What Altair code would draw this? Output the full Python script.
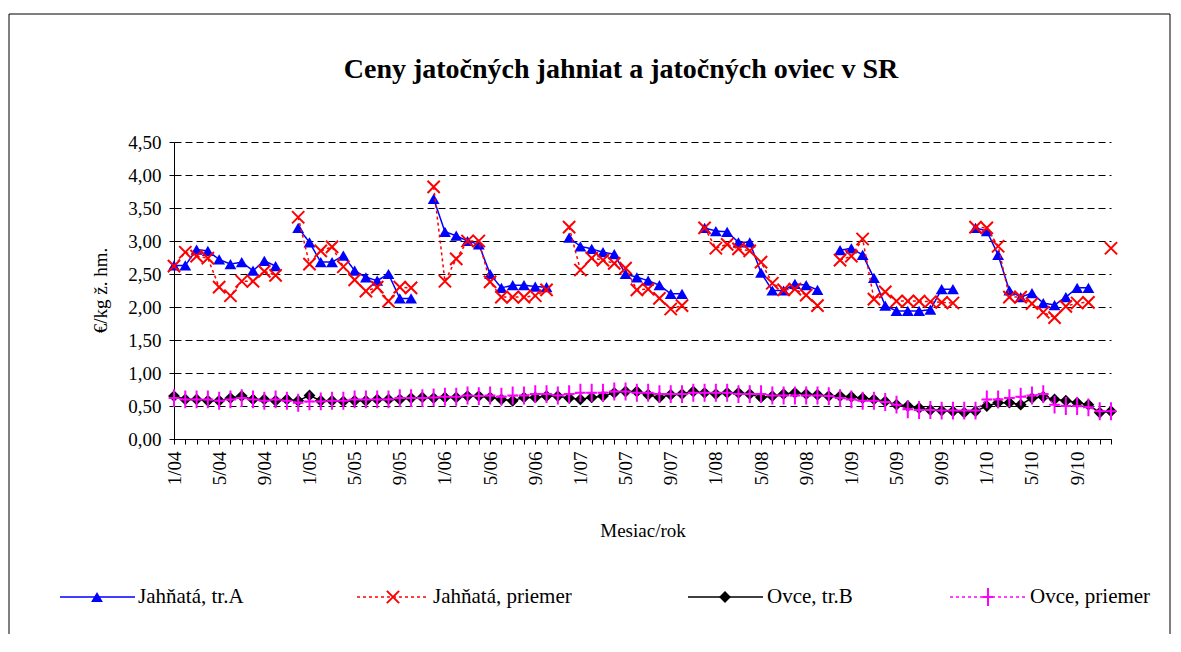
import altair as alt
import pandas as pd

# ---------------- data ----------------
months = [f"{m}/{y:02d}" for y in range(4, 11) for m in range(1, 13)]
tick_labels = ["1/04", "5/04", "9/04", "1/05", "5/05", "9/05", "1/06", "5/06", "9/06",
               "1/07", "5/07", "9/07", "1/08", "5/08", "9/08", "1/09", "5/09", "9/09",
               "1/10", "5/10", "9/10"]
y_ticks = [0, 0.5, 1.0, 1.5, 2.0, 2.5, 3.0, 3.5, 4.0, 4.5]

jahnata_trA = [
    2.63, 2.63, 2.87, 2.85, 2.72, 2.65, 2.68, 2.55, 2.70, 2.62, None, 3.20,
    2.98, 2.68, 2.68, 2.78, 2.55, 2.45, 2.40, 2.50, 2.13, 2.13, None, 3.64,
    3.14, 3.08, 3.00, 2.95, 2.50, 2.29, 2.33, 2.33, 2.31, 2.30, None, 3.05,
    2.92, 2.88, 2.83, 2.80, 2.50, 2.45, 2.40, 2.33, 2.20, 2.20, None, 3.20,
    3.15, 3.14, 2.98, 2.98, 2.52, 2.25, 2.25, 2.35, 2.33, 2.26, None, 2.86,
    2.89, 2.79, 2.44, 2.02, 1.94, 1.94, 1.94, 1.96, 2.27, 2.27, None, 3.20,
    3.15, 2.79, 2.25, 2.15, 2.21, 2.06, 2.03, 2.15, 2.29, 2.29, None, None,
]
jahnata_priemer = [
    2.62, 2.83, 2.77, 2.74, 2.30, 2.17, 2.39, 2.39, 2.54, 2.48, None, 3.36,
    2.65, 2.85, 2.91, 2.61, 2.41, 2.24, 2.30, 2.09, 2.30, 2.29, None, 3.82,
    2.39, 2.73, 3.00, 3.00, 2.38, 2.15, 2.15, 2.15, 2.17, 2.26, None, 3.21,
    2.56, 2.74, 2.71, 2.66, 2.59, 2.26, 2.27, 2.13, 1.97, 2.02, None, 3.20,
    2.89, 2.95, 2.88, 2.85, 2.68, 2.36, 2.26, 2.27, 2.18, 2.02, None, 2.71,
    2.77, 3.03, 2.12, 2.23, 2.09, 2.09, 2.09, 2.08, 2.07, 2.06, None, 3.21,
    3.20, 2.92, 2.15, 2.15, 2.05, 1.92, 1.84, 2.01, 2.06, 2.07, None, 2.89,
]
ovce_trB = [
    0.65, 0.60, 0.60, 0.58, 0.58, 0.62, 0.65, 0.60, 0.60, 0.58, 0.60, 0.58,
    0.66, 0.58, 0.58, 0.57, 0.58, 0.58, 0.60, 0.60, 0.60, 0.62, 0.63, 0.62,
    0.63, 0.63, 0.65, 0.65, 0.63, 0.60, 0.58, 0.63, 0.63, 0.65, 0.65, 0.62,
    0.60, 0.63, 0.65, 0.70, 0.72, 0.72, 0.67, 0.63, 0.67, 0.68, 0.72, 0.70,
    0.68, 0.70, 0.70, 0.68, 0.63, 0.65, 0.68, 0.70, 0.68, 0.67, 0.65, 0.65,
    0.64, 0.62, 0.60, 0.57, 0.52, 0.50, 0.47, 0.44, 0.43, 0.42, 0.40, 0.42,
    0.50, 0.55, 0.55, 0.52, 0.62, 0.64, 0.60, 0.58, 0.55, 0.52, 0.40, 0.42,
]
ovce_priemer = [
    0.62, 0.60, 0.60, 0.60, 0.58, 0.60, 0.62, 0.60, 0.58, 0.60, 0.58, 0.55,
    0.57, 0.57, 0.58, 0.58, 0.60, 0.60, 0.60, 0.60, 0.62, 0.62, 0.62, 0.63,
    0.64, 0.64, 0.66, 0.65, 0.66, 0.64, 0.66, 0.66, 0.68, 0.68, 0.66, 0.68,
    0.70, 0.70, 0.70, 0.72, 0.72, 0.70, 0.70, 0.68, 0.68, 0.68, 0.70, 0.70,
    0.70, 0.70, 0.68, 0.68, 0.68, 0.66, 0.66, 0.66, 0.66, 0.66, 0.65, 0.62,
    0.60, 0.58, 0.58, 0.56, 0.52, 0.45, 0.44, 0.44, 0.43, 0.43, 0.43, 0.43,
    0.60, 0.60, 0.62, 0.64, 0.66, 0.68, 0.52, 0.50, 0.50, 0.48, 0.42, 0.42,
]
series_names = ["Jahňatá, tr.A", "Jahňatá, priemer", "Ovce, tr.B", "Ovce, priemer"]
title_text = "Ceny jatočných jahniat a jatočných oviec v SR"

df = pd.DataFrame({
    "month": months,
    "a": jahnata_trA,
    "ap": jahnata_priemer,
    "b": ovce_trB,
    "bp": ovce_priemer,
})

FONT = "Liberation Serif"
X_PATH = "M-1,-1L1,1M-1,1L1,-1"
PLUS_PATH = "M0,-1L0,1M-0.6,0L0.6,0"

label_list = "[" + ",".join(f"'{t}'" for t in tick_labels) + "]"

x_enc = alt.X(
    "month:O",
    sort=months,
    scale=alt.Scale(type="point", padding=0),
    axis=alt.Axis(
        title="Mesiac/rok",
        labelAngle=-90,
        labelAlign="right",
        labelBaseline="middle",
        labelExpr=f"indexof({label_list}, datum.value) >= 0 ? datum.value : ''",
        labelFont=FONT, labelFontSize=19, labelColor="black",
        labelPadding=7, tickSize=5, tickColor="black", domainColor="black",
        titleFont=FONT, titleFontSize=19, titleFontWeight="normal",
        titleColor="black", titleY=91, titleBaseline="middle",
        labelOverlap=False, grid=False,
    ),
)

y_scale = alt.Scale(domain=[0, 4.5], nice=False, zero=True)
y_axis = alt.Axis(
    title="€/kg ž. hm.",
    values=y_ticks,
    labelExpr="replace(format(datum.value, '.2f'), '.', ',')",
    labelFont=FONT, labelFontSize=19, labelColor="black", labelPadding=8,
    tickSize=5, tickColor="black", domainColor="black",
    grid=True, gridColor="black", gridDash=[7, 4], gridWidth=1,
    titleFont=FONT, titleFontSize=19, titleFontWeight="normal",
    titleColor="black", titleX=-74, titleY=148, titleAngle=-90,
    titleBaseline="middle",
)

base = alt.Chart(df)

def series_layers(field, color, dash, shape, size, filled, sw):
    y = alt.Y(f"{field}:Q", scale=y_scale, axis=y_axis)
    line = base.mark_line(color=color, strokeWidth=1.5, strokeDash=dash).encode(
        x=x_enc, y=y
    )
    pts = base.mark_point(
        shape=shape, size=size, filled=filled, color=color, strokeWidth=sw, opacity=1
    ).encode(x=x_enc, y=y)
    return [line, pts]

layers = []
layers += series_layers("a", "#0000FF", [1, 0], "triangle-up", 140, True, 1)
layers += series_layers("ap", "#FF0000", [3, 3], X_PATH, 150, False, 2)
layers += series_layers("b", "#000000", [1, 0], "diamond", 140, True, 1)
layers += series_layers("bp", "#FF00FF", [3, 3], PLUS_PATH, 320, False, 2)

# title as text
title = alt.Chart(pd.DataFrame({"t": [title_text]})).mark_text(
    font=FONT, fontSize=28, fontWeight="bold", color="black", align="center",
    baseline="middle"
).encode(x=alt.value(447), y=alt.value(-72), text="t:N")
layers.append(title)

# legend (manual)
leg_colors = ["#0000FF", "#FF0000", "#000000", "#FF00FF"]
leg_dash = [[1, 0], [3, 3], [1, 0], [3, 3]]
leg_shapes = ["triangle-up", X_PATH, "diamond", PLUS_PATH]
leg_sizes = [140, 150, 140, 320]
leg_filled = [True, False, True, False]
leg_line = [(-114, -39), (183, 254), (514, 589), (776, 851)]
leg_marker = [-77, 219, 551, 814]
leg_text = [-36, 259, 593, 856]
LY = 455
for i, name in enumerate(series_names):
    d = pd.DataFrame({"name": [name]})
    layers.append(alt.Chart(d).mark_rule(
        color=leg_colors[i], strokeWidth=1.5, strokeDash=leg_dash[i]
    ).encode(x=alt.value(leg_line[i][0]), x2=alt.value(leg_line[i][1]), y=alt.value(LY)))
    layers.append(alt.Chart(d).mark_point(
        shape=leg_shapes[i], size=leg_sizes[i], filled=leg_filled[i],
        color=leg_colors[i], strokeWidth=2 if not leg_filled[i] else 1, opacity=1
    ).encode(x=alt.value(leg_marker[i]), y=alt.value(LY)))
    layers.append(alt.Chart(d).mark_text(
        font=FONT, fontSize=21, color="black", align="left", baseline="middle"
    ).encode(x=alt.value(leg_text[i]), y=alt.value(LY), text="name:N"))

# outer border
border = alt.Chart(pd.DataFrame({"b": [1]})).mark_rect(
    fill=None, stroke="black", strokeWidth=1
).encode(x=alt.value(-165), x2=alt.value(996), y=alt.value(-128), y2=alt.value(520))
layers.append(border)

chart = alt.layer(*layers).properties(
    width=937,
    height=297,
    padding={"left": 166, "top": 134, "right": 60, "bottom": 195},
    autosize=alt.AutoSizeParams(type="none"),
).configure_view(stroke=None)

chart.save("out.html", embed_options={"renderer": "svg", "actions": False})
